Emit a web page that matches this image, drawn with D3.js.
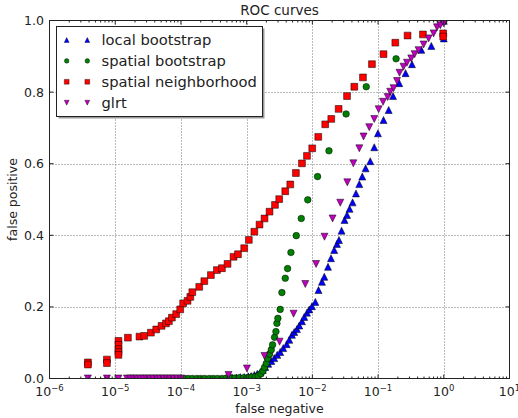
<!DOCTYPE html>
<html>
<head>
<meta charset="utf-8">
<script src="https://cdn.jsdelivr.net/npm/d3@7"></script>
<style>
  body { margin: 0; background: #fff; }
  svg { display: block; font-family: "DejaVu Sans", sans-serif; }
</style>
</head>
<body>
<script>
// ROC curves: false negative (log x) vs false positive
const localBootstrap = [
  [5.2e-4, 0.002], [6.0e-4, 0.003], [7.0e-4, 0.003], [8.0e-4, 0.004], [9.2e-4, 0.004],
  [1.06e-3, 0.006], [1.17e-3, 0.007], [1.31e-3, 0.010], [1.45e-3, 0.013], [1.61e-3, 0.017],
  [1.76e-3, 0.024], [1.92e-3, 0.032], [2.13e-3, 0.041], [2.37e-3, 0.049], [2.63e-3, 0.057],
  [2.92e-3, 0.066], [3.24e-3, 0.074], [3.61e-3, 0.085], [4.07e-3, 0.096], [4.45e-3, 0.108],
  [4.89e-3, 0.122], [5.30e-3, 0.130], [5.83e-3, 0.138], [6.32e-3, 0.148], [6.95e-3, 0.160],
  [7.53e-3, 0.172], [8.28e-3, 0.184], [8.97e-3, 0.193], [9.86e-3, 0.202], [1.11e-2, 0.214],
  [1.24e-2, 0.247], [1.40e-2, 0.270], [1.52e-2, 0.284], [1.73e-2, 0.312], [1.92e-2, 0.336],
  [2.15e-2, 0.359], [2.37e-2, 0.376], [2.54e-2, 0.387], [2.78e-2, 0.413], [3.09e-2, 0.443],
  [3.37e-2, 0.457], [3.68e-2, 0.474], [4.09e-2, 0.492], [4.61e-2, 0.517], [5.18e-2, 0.543],
  [5.75e-2, 0.564], [6.46e-2, 0.587], [7.60e-2, 0.607], [8.75e-2, 0.646], [9.95e-2, 0.685],
  [0.121, 0.722], [0.145, 0.750], [0.169, 0.789], [0.210, 0.825], [0.262, 0.853],
  [0.328, 0.878], [0.455, 0.918], [0.646, 0.929], [1.0, 0.950], [1.0, 0.999]
];

const spatialBootstrap = [
  [1.0e-4, 0], [1.15e-4, 0], [1.3e-4, 0], [1.5e-4, 0], [1.75e-4, 0], [2.0e-4, 0],
  [2.3e-4, 0], [2.7e-4, 0], [3.1e-4, 0], [3.6e-4, 0], [4.2e-4, 0], [4.9e-4, 0.001],
  [5.7e-4, 0.001], [6.6e-4, 0.001], [7.7e-4, 0.002], [9.0e-4, 0.002], [1.05e-3, 0.003],
  [1.2e-3, 0.004], [1.35e-3, 0.005], [1.5e-3, 0.008], [1.65e-3, 0.013], [1.77e-3, 0.021],
  [1.87e-3, 0.031], [1.99e-3, 0.042], [2.08e-3, 0.056], [2.23e-3, 0.068], [2.37e-3, 0.080],
  [2.48e-3, 0.094], [2.66e-3, 0.115], [2.79e-3, 0.131], [2.89e-3, 0.154], [2.99e-3, 0.168],
  [3.24e-3, 0.193], [3.44e-3, 0.240], [3.87e-3, 0.280], [4.20e-3, 0.307], [4.72e-3, 0.352],
  [5.69e-3, 0.399], [6.78e-3, 0.447], [8.51e-3, 0.499], [1.20e-2, 0.564], [1.79e-2, 0.636],
  [3.26e-2, 0.739], [6.61e-2, 0.815], [0.188, 0.893], [1.0, 0.998]
];

const spatialNeighborhood = [
  [3.84e-6, 0.045], [3.84e-6, 0.039], [7.48e-6, 0.053], [7.48e-6, 0.043],
  [1.12e-5, 0.105], [1.12e-5, 0.094], [1.12e-5, 0.082], [1.12e-5, 0.074], [1.12e-5, 0.066],
  [1.56e-5, 0.114], [2.34e-5, 0.117], [2.76e-5, 0.119], [3.49e-5, 0.128], [4.21e-5, 0.137],
  [5.07e-5, 0.147], [5.92e-5, 0.154], [6.56e-5, 0.160], [7.29e-5, 0.170], [8.47e-5, 0.180],
  [9.75e-5, 0.193], [1.08e-4, 0.210], [1.26e-4, 0.217], [1.39e-4, 0.228], [1.49e-4, 0.241],
  [1.90e-4, 0.256], [2.27e-4, 0.272], [2.86e-4, 0.289], [3.53e-4, 0.303], [4.21e-4, 0.308],
  [5.12e-4, 0.320], [6.32e-4, 0.340], [7.38e-4, 0.347], [9.18e-4, 0.364], [1.08e-3, 0.387],
  [1.31e-3, 0.410], [1.57e-3, 0.430], [1.87e-3, 0.447], [2.23e-3, 0.466], [2.70e-3, 0.485],
  [3.13e-3, 0.501], [3.87e-3, 0.523], [4.61e-3, 0.542], [5.62e-3, 0.574], [6.95e-3, 0.601],
  [8.28e-3, 0.622], [9.95e-3, 0.643], [1.23e-2, 0.675], [1.57e-2, 0.710], [1.94e-2, 0.725],
  [2.51e-2, 0.753], [3.37e-2, 0.789], [4.35e-2, 0.815], [5.89e-2, 0.841], [8.07e-2, 0.878],
  [0.121, 0.906], [0.183, 0.938], [0.281, 0.958], [0.482, 0.961], [0.98, 0.964], [0.98, 0.955]
];

const glrt = [
  [3.84e-6, 0], [7.48e-6, 0], [1.12e-5, 0], [1.51e-5, 0], [1.7e-5, 0], [1.9e-5, 0],
  [2.1e-5, 0], [2.4e-5, 0], [2.7e-5, 0], [3.0e-5, 0], [3.4e-5, 0], [3.8e-5, 0],
  [4.3e-5, 0], [4.8e-5, 0], [5.4e-5, 0], [6.1e-5, 0], [6.9e-5, 0], [7.8e-5, 0],
  [8.8e-5, 0], [1.0e-4, 0], [5.3e-4, 0.010], [1.01e-3, 0.028], [1.87e-3, 0.063],
  [3.17e-3, 0.103], [5.18e-3, 0.181], [7.80e-3, 0.264], [1.14e-2, 0.320], [1.53e-2, 0.396],
  [2.03e-2, 0.447], [2.66e-2, 0.491], [3.40e-2, 0.548], [4.20e-2, 0.601], [5.18e-2, 0.643],
  [6.01e-2, 0.676], [7.34e-2, 0.702], [8.75e-2, 0.725], [0.102, 0.752], [0.119, 0.773],
  [0.140, 0.786], [0.153, 0.801], [0.172, 0.811], [0.194, 0.831], [0.212, 0.854],
  [0.244, 0.871], [0.275, 0.882], [0.320, 0.894], [0.360, 0.906], [0.413, 0.917],
  [0.493, 0.933], [0.588, 0.950], [0.700, 0.964], [0.789, 0.981], [0.885, 0.987], [1.0, 0.992]
];

const seriesNames = ["local bootstrap", "spatial bootstrap", "spatial neighborhood", "glrt"];
const xTickExponents = [-6, -5, -4, -3, -2, -1, 0, 1];
const yTicks = [0.0, 0.2, 0.4, 0.6, 0.8, 1.0];

const width = 518;
const height = 418;
const plotLeft = 49.5, plotRight = 509.5, plotTop = 20.5, plotBottom = 378.5;

const svg = d3.select("body").append("svg")
    .attr("width", width)
    .attr("height", height);

const x = d3.scaleLog().domain([1e-6, 10]).range([plotLeft, plotRight]);
const y = d3.scaleLinear().domain([0, 1]).range([plotBottom, plotTop]);

// marker shapes, s = half size
function shapePath(kind, s) {
    if (kind === "up") return `M0,${-s}L${s},${s}L${-s},${s}Z`;
    if (kind === "down") return `M0,${s}L${s},${-s}L${-s},${-s}Z`;
    if (kind === "square") return `M${-s},${-s}H${s}V${s}H${-s}Z`;
    const p = d3.path();
    p.arc(0, 0, s, 0, 2 * Math.PI);
    return p.toString();
}

const series = [
    { name: seriesNames[0], data: localBootstrap, color: "#0000ff", kind: "up", s: 3.5 },
    { name: seriesNames[1], data: spatialBootstrap, color: "#008000", kind: "circle", s: 3.3 },
    { name: seriesNames[2], data: spatialNeighborhood, color: "#ff0000", kind: "square", s: 3.4 },
    { name: seriesNames[3], data: glrt, color: "#bf00bf", kind: "down", s: 3.5 }
];

// grid
const grid = svg.append("g")
    .attr("stroke", "#777")
    .attr("stroke-width", 1)
    .attr("stroke-dasharray", "1,2");

xTickExponents.slice(1, -1).forEach(e => {
    const gx = Math.round(x(Math.pow(10, e))) + 0.5;
    grid.append("line")
        .attr("x1", gx)
        .attr("x2", gx)
        .attr("y1", plotTop)
        .attr("y2", plotBottom);
});
yTicks.slice(1, -1).forEach(v => {
    const gy = Math.round(y(v)) + 0.5;
    grid.append("line")
        .attr("x1", plotLeft)
        .attr("x2", plotRight)
        .attr("y1", gy)
        .attr("y2", gy);
});

// markers
svg.append("clipPath").attr("id", "plotclip")
    .append("rect")
    .attr("x", plotLeft).attr("y", plotTop)
    .attr("width", plotRight - plotLeft).attr("height", plotBottom - plotTop);

const plot = svg.append("g").attr("clip-path", "url(#plotclip)");

series.forEach(sr => {
    plot.append("g").selectAll("path")
        .data(sr.data)
        .join("path")
        .attr("transform", d => `translate(${x(d[0])},${y(d[1])})`)
        .attr("d", shapePath(sr.kind, sr.s))
        .attr("fill", sr.color)
        .attr("stroke", "#000")
        .attr("stroke-width", 0.5);
});

// frame
svg.append("rect")
    .attr("x", plotLeft).attr("y", plotTop)
    .attr("width", plotRight - plotLeft).attr("height", plotBottom - plotTop)
    .attr("fill", "none")
    .attr("stroke", "#222")
    .attr("stroke-width", 1);

// ticks
const ticks = svg.append("g").attr("stroke", "#222").attr("stroke-width", 1);
xTickExponents.forEach(e => {
    const px = x(Math.pow(10, e));
    ticks.append("line").attr("x1", px).attr("x2", px).attr("y1", plotBottom).attr("y2", plotBottom - 4);
    ticks.append("line").attr("x1", px).attr("x2", px).attr("y1", plotTop).attr("y2", plotTop + 4);
    if (e < 1) {
        for (let m = 2; m < 10; m++) {
            const mx = x(m * Math.pow(10, e));
            ticks.append("line").attr("x1", mx).attr("x2", mx).attr("y1", plotBottom).attr("y2", plotBottom - 2);
            ticks.append("line").attr("x1", mx).attr("x2", mx).attr("y1", plotTop).attr("y2", plotTop + 2);
        }
    }
});
yTicks.forEach(v => {
    const py = y(v);
    ticks.append("line").attr("x1", plotLeft).attr("x2", plotLeft + 4).attr("y1", py).attr("y2", py);
    ticks.append("line").attr("x1", plotRight).attr("x2", plotRight - 4).attr("y1", py).attr("y2", py);
});

// tick labels
xTickExponents.forEach(e => {
    const t = svg.append("text")
        .attr("x", x(Math.pow(10, e)))
        .attr("y", 396)
        .attr("text-anchor", "middle")
        .attr("font-size", "12.5px")
        .attr("fill", "#222");
    t.append("tspan").text("10");
    t.append("tspan")
        .attr("dy", -5)
        .attr("font-size", "8.5px")
        .text(e < 0 ? "\u2212" + (-e) : String(e));
});

yTicks.forEach(v => {
    svg.append("text")
        .attr("x", 44)
        .attr("y", y(v) + 4.5)
        .attr("text-anchor", "end")
        .attr("font-size", "12.5px")
        .attr("fill", "#222")
        .text(v.toFixed(1));
});

// titles
svg.append("text")
    .attr("x", (plotLeft + plotRight) / 2)
    .attr("y", 15)
    .attr("text-anchor", "middle")
    .attr("font-size", "13.5px")
    .attr("fill", "#222")
    .text("ROC curves");

svg.append("text")
    .attr("x", (plotLeft + plotRight) / 2)
    .attr("y", 413)
    .attr("text-anchor", "middle")
    .attr("font-size", "12.5px")
    .attr("fill", "#222")
    .text("false negative");

svg.append("text")
    .attr("transform", `translate(17,${(plotTop + plotBottom) / 2}) rotate(-90)`)
    .attr("text-anchor", "middle")
    .attr("font-size", "12.5px")
    .attr("fill", "#222")
    .text("false positive");

// legend
const legend = svg.append("g");
legend.append("rect")
    .attr("x", 58.5).attr("y", 28.5)
    .attr("width", 206).attr("height", 90)
    .attr("fill", "#999");
legend.append("rect")
    .attr("x", 56.5).attr("y", 26.5)
    .attr("width", 206).attr("height", 90)
    .attr("fill", "#fff")
    .attr("stroke", "#222")
    .attr("stroke-width", 1);

series.forEach((sr, i) => {
    const cy = 40 + i * 20.9;
    [66.7, 87.3].forEach(mx => {
        legend.append("path")
            .attr("transform", `translate(${mx},${cy})`)
            .attr("d", shapePath(sr.kind, sr.s * 0.7))
            .attr("fill", sr.color)
            .attr("stroke", "#000")
            .attr("stroke-width", 0.4);
    });
    legend.append("text")
        .attr("x", 101.5)
        .attr("y", cy + 5)
        .attr("font-size", "14.7px")
        .attr("fill", "#222")
        .text(sr.name);
});
</script>
</body>
</html>
